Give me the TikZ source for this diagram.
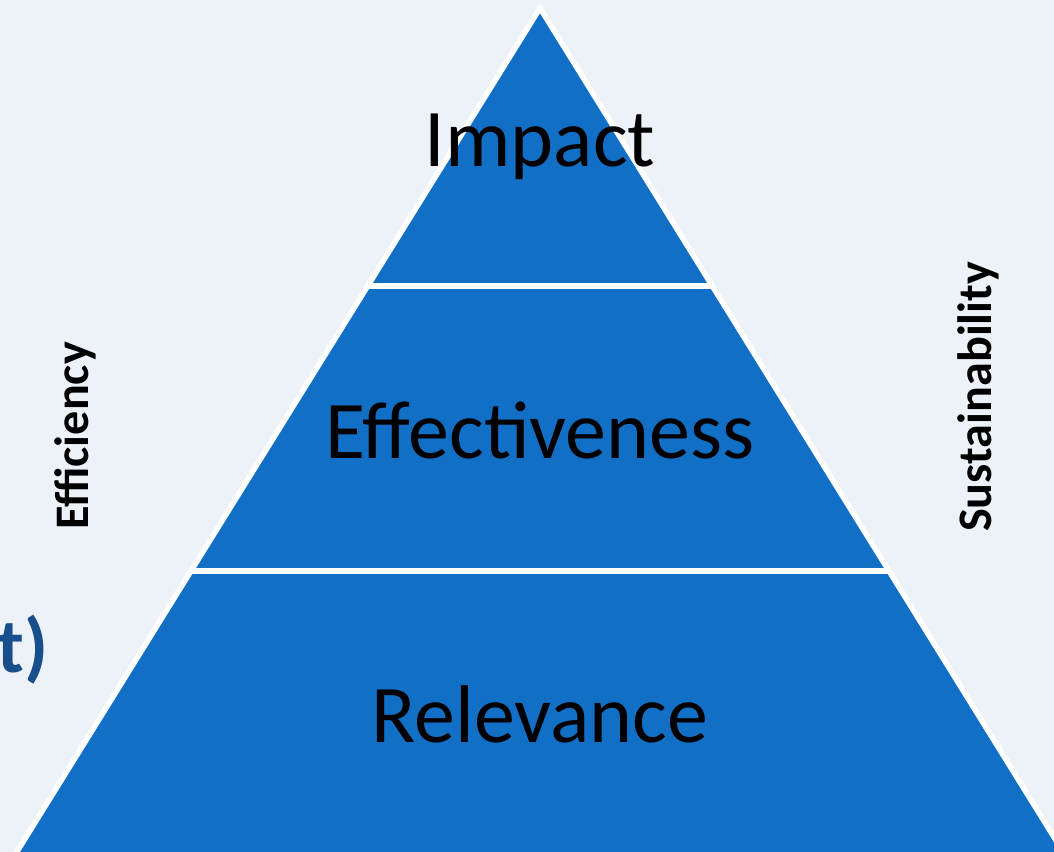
\documentclass[tikz,border=0pt]{standalone}
\usepackage{fontspec}
\setmainfont{Carlito}
\definecolor{fundo}{RGB}{237,242,249}
\definecolor{azul}{RGB}{17,112,198}
\definecolor{azulesc}{RGB}{25,78,140}
\tikzset{
	nivel/.style={font=\fontsize{23.3}{23.3}\selectfont, text=black},
	lado/.style={font=\fontsize{13.7}{13.7}\selectfont\bfseries, text=black, rotate=90}
}
\begin{document}
\begin{tikzpicture}[x=0.01cm, y=-0.01cm]
		\useasboundingbox (0,0) rectangle (1054,852);
		\clip (0,0) rectangle (1054,852);
		\fill[fundo] (0,0) rectangle (1054,852);							% Fundo
		
		% Pirâmide
		\coordinate (topo) at (540,8);
		\coordinate (esq) at (-18,908);
		\coordinate (dir) at (1098,908);
		\draw[fill=azul, draw=white, line width=0.055cm] (topo) -- (esq) -- (dir) -- cycle;
		\draw[white, line width=0.06cm] (368,286) -- (712,286);				% Divisão 1
		\draw[white, line width=0.06cm] (191,571) -- (889,571);				% Divisão 2
		
		% Níveis
		\node[nivel] (impacto)  at (540,147) {Impact};
		\node[nivel] (efetiv)   at (540,430) {Effectiveness};
		\node[nivel] (relev)    at (540,714) {Relevance};
		
		% Rótulos laterais
		\node[lado] (efic)  at (75,436) {Efficiency};
		\node[lado] (sust)  at (978,397) {Sustainability};
		\node[anchor=west, inner sep=0pt, text=azulesc, font=\fontsize{22}{22}\selectfont\bfseries] (resto) at (-3,650) {t)};
	\end{tikzpicture}
\end{document}
